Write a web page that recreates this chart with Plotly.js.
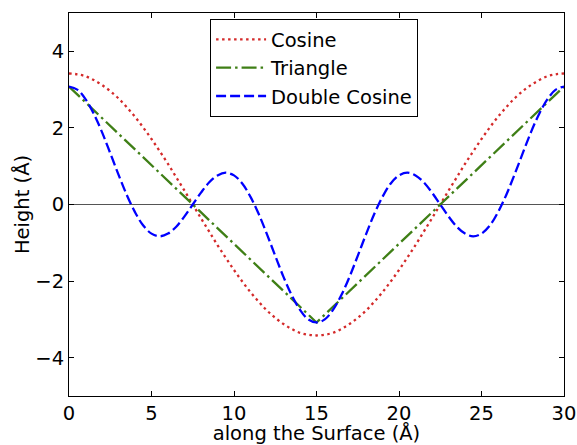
<!DOCTYPE html>
<html>
<head>
<meta charset="utf-8">
<script src="https://cdn.plot.ly/plotly-3.0.1.min.js"></script>
<style>html,body{margin:0;padding:0;background:#fff;}#chart{width:577px;height:445px;}</style>
</head>
<body>
<div id="chart"></div>
<script>
// Values (x in Å, height in Å)
var xValues = [0,0.5,1,1.5,2,2.5,3,3.5,4,4.5,5,5.5,6,6.5,7,7.5,8,8.5,9,9.5,10,10.5,11,11.5,12,12.5,13,13.5,14,14.5,15,
               15.5,16,16.5,17,17.5,18,18.5,19,19.5,20,20.5,21,21.5,22,22.5,23,23.5,24,24.5,25,25.5,26,26.5,27,27.5,28,28.5,29,29.5,30];
var cosineValues = [3.42,3.40,3.35,3.25,3.12,2.96,2.77,2.54,2.29,2.01,1.71,1.39,1.06,0.71,0.36,0,-0.36,-0.71,-1.06,-1.39,-1.71,-2.01,-2.29,-2.54,-2.77,-2.96,-3.12,-3.25,-3.35,-3.40,-3.42,
                    -3.40,-3.35,-3.25,-3.12,-2.96,-2.77,-2.54,-2.29,-2.01,-1.71,-1.39,-1.06,-0.71,-0.36,0,0.36,0.71,1.06,1.39,1.71,2.01,2.29,2.54,2.77,2.96,3.12,3.25,3.35,3.40,3.42];
var doubleCosineValues = [3.08,3.00,2.75,2.37,1.89,1.34,0.78,0.25,-0.20,-0.55,-0.76,-0.83,-0.76,-0.58,-0.31,0,0.31,0.58,0.76,0.83,0.76,0.55,0.20,-0.25,-0.78,-1.34,-1.89,-2.37,-2.75,-3.00,-3.08,
                          -3.00,-2.75,-2.37,-1.89,-1.34,-0.78,-0.25,0.20,0.55,0.76,0.83,0.76,0.58,0.31,0,-0.31,-0.58,-0.76,-0.83,-0.76,-0.55,-0.20,0.25,0.78,1.34,1.89,2.37,2.75,3.00,3.08];
var triangleX = [0,7.5,15,22.5,30];
var triangleValues = [3.08,0,-3.08,0,3.08];
var seriesNames = ['Cosine','Triangle','Double Cosine'];
var xTicks = [0,5,10,15,20,25,30];
var yTicks = [-4,-2,0,2,4];

var font = {family:'DejaVu Sans', size:19.5, color:'#000'};

var traces = [
  {x:xValues, y:cosineValues, name:seriesNames[0], legendgroup:'a', mode:'lines', line:{color:'#d42a2a', width:2.3, dash:'2.5px,3.5px', shape:'spline'}},
  {x:triangleX, y:triangleValues, name:seriesNames[1], legendgroup:'b', mode:'lines', line:{color:'#3f7f16', width:2.3, dash:'15px,4px,2.5px,4px'}},
  {x:xValues, y:doubleCosineValues, name:seriesNames[2], legendgroup:'c', mode:'lines', line:{color:'#0000ff', width:2.3, dash:'10px,4px', shape:'spline'}}
];

var axisCommon = {showline:true, linecolor:'#000', linewidth:1, mirror:'ticks', ticks:'inside', ticklen:5, tickcolor:'#000', tickwidth:1, showgrid:false, tickfont:font};

var layout = {
  width:577, height:445,
  margin:{l:69, r:13, t:13, b:49},
  paper_bgcolor:'#fff', plot_bgcolor:'#fff',
  font:font,
  showlegend:true,
  legend:{x:0.285, y:0.984, xanchor:'left', yanchor:'top', bgcolor:'#fff', bordercolor:'#000', borderwidth:1, font:font, tracegroupgap:0, itemwidth:50},
  xaxis:Object.assign({}, axisCommon, {range:[0,30], tickvals:xTicks, zeroline:false,
      title:{text:'along the Surface (Å)', font:font, standoff:13}}),
  yaxis:Object.assign({}, axisCommon, {range:[-5,5], tickvals:yTicks, zeroline:true, zerolinecolor:'#555', zerolinewidth:1.5,
      title:{text:'Height (Å)', font:font, standoff:0}})
};

Plotly.newPlot('chart', traces, layout, {displayModeBar:false, staticPlot:true});
</script>
</body>
</html>
